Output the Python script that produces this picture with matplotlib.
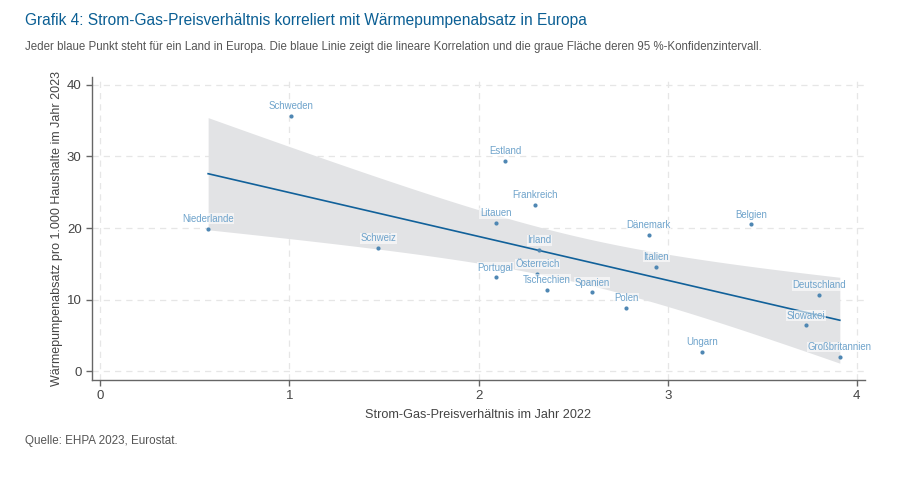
import numpy as np
import matplotlib.pyplot as plt

plt.rcParams['font.family'] = ['Liberation Sans', 'DejaVu Sans']

laender = ['Schweden', 'Niederlande', 'Schweiz', 'Estland', 'Frankreich', 'Litauen',
           'Irland', 'Portugal', 'Österreich', 'Tschechien', 'Spanien', 'Polen',
           'Dänemark', 'Italien', 'Belgien', 'Deutschland', 'Slowakei', 'Ungarn',
           'Großbritannien']
preisverhaeltnis = [1.01, 0.57, 1.47, 2.14, 2.30, 2.09, 2.32, 2.09, 2.31, 2.36, 2.60, 2.78,
                    2.90, 2.94, 3.44, 3.80, 3.73, 3.18, 3.91]
absatz = [35.7, 19.9, 17.2, 29.4, 23.2, 20.7, 16.9, 13.1, 13.6, 11.4, 11.0, 8.8,
          19.0, 14.6, 20.5, 10.6, 6.4, 2.75, 2.0]

x = np.array(preisverhaeltnis)
y = np.array(absatz)
n = len(x)

# lineare Regression + 95%-Konfidenzintervall
b, a = np.polyfit(x, y, 1)
resid = y - (a + b * x)
s = np.sqrt(np.sum(resid ** 2) / (n - 2))
sxx = np.sum((x - x.mean()) ** 2)
t = 2.110  # t(0.975, df=17)
xs = np.linspace(x.min(), x.max(), 100)
ys = a + b * xs
se = s * np.sqrt(1 / n + (xs - x.mean()) ** 2 / sxx)

fig = plt.figure(figsize=(9.1, 4.87), dpi=100)
ax = fig.add_axes([92 / 910, 1 - 379.5 / 487, (865 - 92) / 910, (379.5 - 77) / 487])

ax.fill_between(xs, ys - t * se, ys + t * se, color='#e2e3e5', lw=0, zorder=1)
ax.plot(xs, ys, color='#11619a', lw=1.2, zorder=3)
ax.scatter(x, y, s=9, color='#4f87b3', zorder=4, linewidths=0)

for name, xi, yi in zip(laender, x, y):
    ax.annotate(name, (xi, yi), xytext=(0, 3.5), textcoords='offset points',
                ha='center', va='bottom', fontsize=6.9, color='#6ea3cb', zorder=5,
                bbox=dict(boxstyle='square,pad=0.05', fc='white', ec='none', alpha=0.6))

ax.set_xlim(-0.044, 4.043)
ax.set_ylim(-1.16, 41.1)
ax.set_xticks([0, 1, 2, 3, 4])
ax.set_yticks([0, 10, 20, 30, 40])
ax.grid(True, ls=(0, (5, 4)), color='#e6e6e6', lw=0.9, zorder=0)
ax.set_axisbelow(True)
for sp in ['top', 'right']:
    ax.spines[sp].set_visible(False)
for sp in ['left', 'bottom']:
    ax.spines[sp].set_color('#666666')
    ax.spines[sp].set_linewidth(1.0)
ax.tick_params(colors='#666666', labelcolor='#444444', labelsize=9.5, length=4, width=1)

ax.set_xlabel('Strom-Gas-Preisverhältnis im Jahr 2022', fontsize=9.1, color='#444444', labelpad=5)
ax.set_ylabel('Wärmepumpenabsatz pro 1.000 Haushalte im Jahr 2023', fontsize=9.0,
              color='#444444', labelpad=3)

fig.text(25 / 910, 1 - 20 / 487, 'Grafik 4: Strom-Gas-Preisverhältnis korreliert mit Wärmepumpenabsatz in Europa',
         fontsize=11.2, color='#0b5f94', va='center', ha='left')
fig.text(25 / 910, 1 - 47 / 487, 'Jeder blaue Punkt steht für ein Land in Europa. Die blaue Linie zeigt die lineare '
         'Korrelation und die graue Fläche deren 95 %-Konfidenzintervall.',
         fontsize=8.3, color='#555555', va='center', ha='left')
fig.text(25 / 910, 1 - 441 / 487, 'Quelle: EHPA 2023, Eurostat.', fontsize=8.4, color='#555555',
         va='center', ha='left')

fig.savefig('out.png', dpi=100)
